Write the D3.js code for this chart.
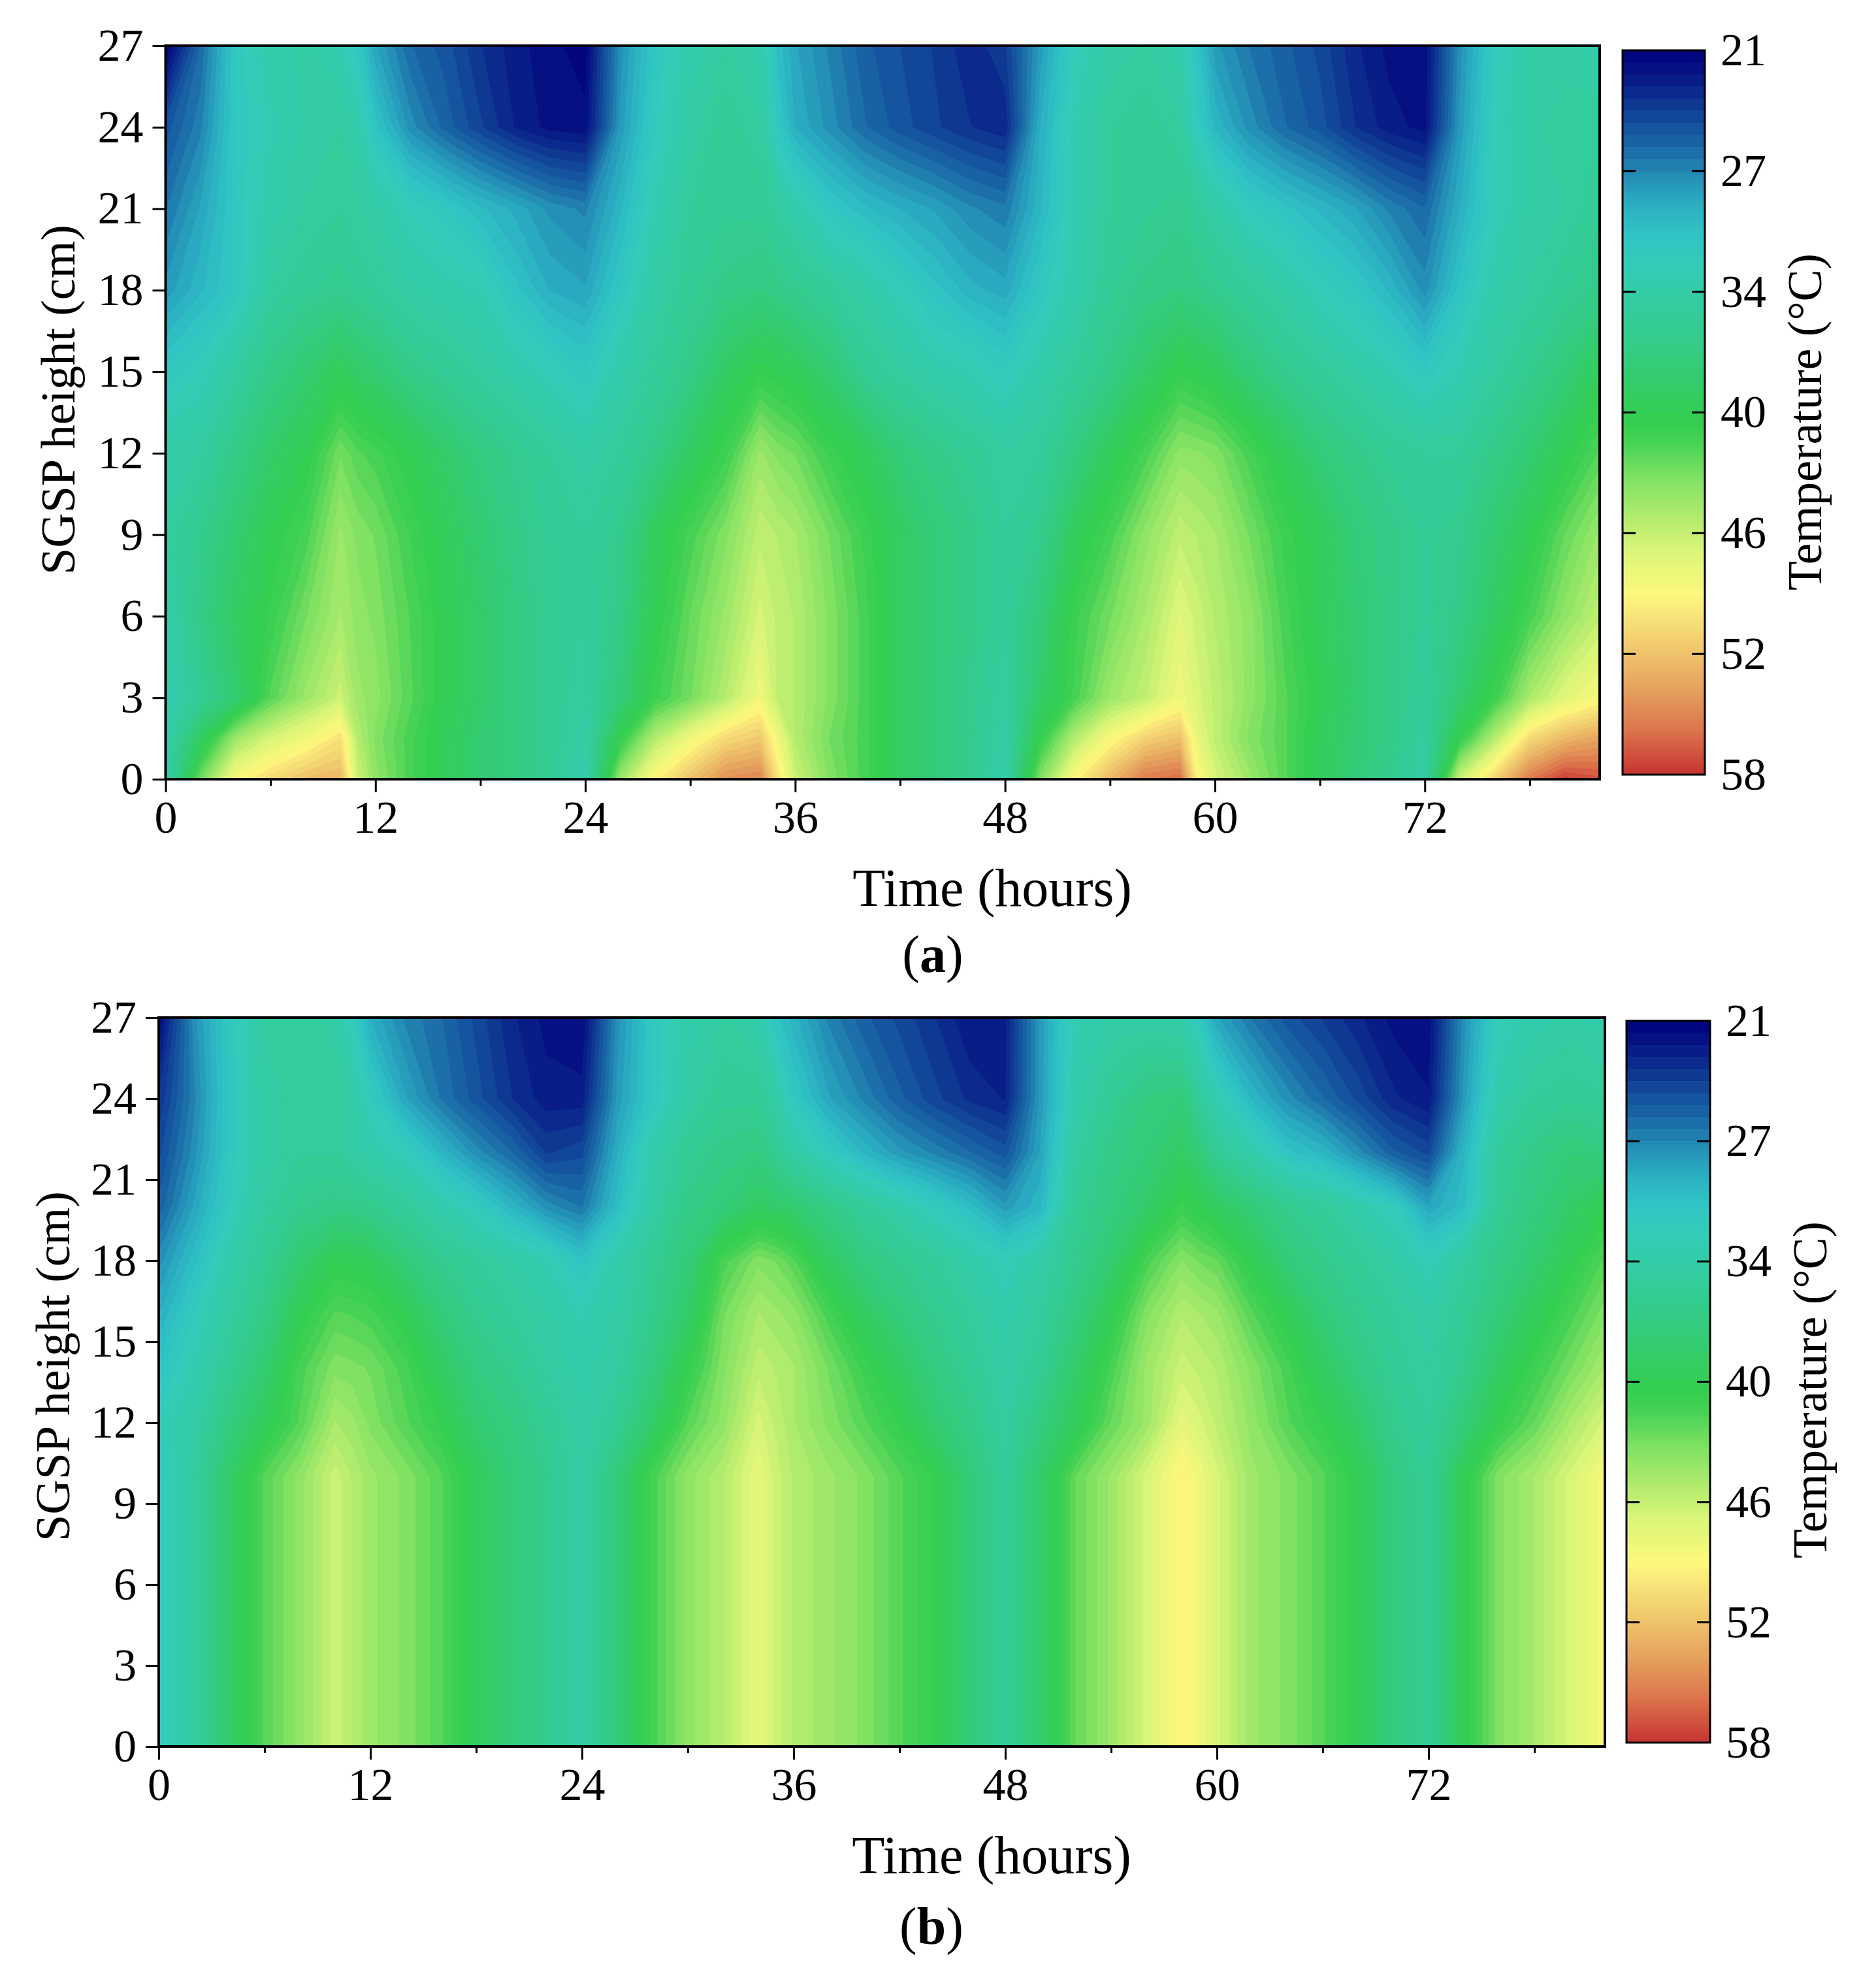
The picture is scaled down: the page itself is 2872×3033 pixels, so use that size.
<!DOCTYPE html>
<html>
<head>
<meta charset="utf-8">
<script src="https://d3js.org/d3.v7.min.js"></script>
<style>
  html, body { margin: 0; background: #fff; }
  text { font-family: "Liberation Serif", serif; fill: #000; }
</style>
</head>
<body>
<div id="chart"></div>
<script>
// sample times (hours), one column per value in the rows below
const times = [0,2,4,6,8,10,11,12,14,16,18,20,22,24,
  26,28,30,32,34,35,36,38,40,42,44,46,48,
  50,52,54,56,58,59,60,62,64,66,68,70,72,
  74,76,78,80,82];

// panel (a), temperature by height
const heightsA = [0,1.5,3,6,9,12,15,18,21,24,27];
const a0   = [33,42.5,48.5,50.5,52,52.5,46,43.5,41,39,37.5,36.5,35,33, 44,49,52,54.5,55,50,46,43,41,38.5,37,35.5,33, 43,49,52.5,55.5,56,49,46.5,44,41.5,39,37,35.5,33.5, 46,51,55.5,57.7,57];
const a1_5 = [33,38.5,44,46.5,48,50,45,43,41,39,37.5,36.5,35,33.5, 40,45,48,50.5,51.5,48,45,42.5,41,38.5,37,35.5,33.5, 40,45,48.5,51,52,47.5,45.5,43,41.5,39,37.5,36,34, 40,45,50.5,52.5,53.5];
const a3   = [32.5,35,37.5,41.5,44,46,44,43.5,41.5,39.5,38,36.5,35,34, 37,40.5,42.5,45,48,45.5,45,43,41,38.5,37,35.5,34, 38,41,44,45.5,48,46.5,45.5,43.5,41.5,39.5,37.5,36,34.5, 37.5,40.5,44.5,47,48.5];
const a6   = [33,36,38.5,40.3,42.5,44.5,43.5,43,41.3,39.5,38,36.5,35,34.5, 36,39.5,42,44,46.5,45.5,45,43,41,38.5,37,36,34.5, 37,40.5,42.5,44.5,47,46,45,43.5,41,39,37.5,36,35, 36,38.5,41,43.5,45.5];
const a9   = [34,35.5,37.5,39.5,41,44,43,42.5,40.7,39,37.5,36,35,34.5, 35.5,39,41,43,45.5,45,44.5,42.5,40.5,38.5,37,36,34.5, 35.5,39,41,43.5,45.5,45,44.5,42.5,40.5,39,37,36,35, 35.5,37.5,39.5,42,44];
const a12  = [33.5,34,36,38,39.5,42.5,41.5,41,39.5,38,36.5,35.5,34.5,33.5, 34.5,36,38.5,40.5,44,43,42.5,40.5,39,37,36,35,34, 34.5,36.5,39,41,43.5,43.3,43,41,39,37,36,35,34.5, 34.5,36,37.5,39.5,41.5];
const a15  = [31,32,34,36,37.5,39,38,37.5,36,35,34,33,32,31, 33,34.5,36,38.5,40,39.5,39,37.5,35,34,33,32.5,31.5, 33,34.5,36,38,40,39.5,39,37,35.5,34.5,33.5,32.5,31, 32.5,34,35.5,37,39];
const a18  = [28,29.5,31,34,35,35.5,35,34.5,33.5,33,32.5,30.5,29,28.5, 31,33.5,35,36,36.5,36,35.5,34.5,33.5,32,30.5,29.3,28.7, 31,33,35,36,36.5,36,35.5,34.5,33.5,32,31,29.5,27.5, 30.5,33,34,35,36];
const a21  = [26.5,28.5,31,33,34,34.5,34,33.5,32,31,29.8,28.8,27.6,27, 29.5,32.5,34.5,35,35,34,33,31,29.8,29,28.3,27.3,26.7, 29.5,32.5,34.5,35,35.5,34.5,33.5,31.5,30.5,29.5,28.5,27,26, 29,32,33.5,34,35];
const a24  = [25,27,31,32.5,33.5,34,33,30.5,27.5,25.7,24.2,22.8,22,21.8, 28,31.5,33.5,35,34,31,29,27.5,26,25,24.2,23.5,23, 29,32.5,34.5,35,34,31.5,29.5,27.5,26,25,23.5,22.5,22, 28,32,33.5,34.5,34.5];
const a27  = [21,26,31,33,33.5,32.5,31,28.5,26,25,23.5,22.5,21.8,21.3, 27.5,31,33,34,33,30,28.5,27,25.5,24.7,24,23,24, 28,32,33.5,34,33,30.5,28,26.5,25.5,24.5,23,22,21.8, 27.5,31.5,33.5,33.5,33];
const rowsA = [a0,a1_5,a3,a6,a9,a12,a15,a18,a21,a24,a27];

// panel (b), temperature by height
const heightsB = [0,10,12,14,16,18,20,22,24,27];
const b0  = [31.5,34,38,41.5,43.5,46,45,44,43,41.5,39,37,35.5,33.5, 37,41,43.5,45,47.5,46,45,44,43,41.5,40,37,34.5, 38,42,44,46.5,49,48,46.5,44,43,41.5,39.5,36.5,35, 39.5,43,44.5,46.5,48.5];
const b10 = [31.5,34,38,41.5,43.5,46,45,44,43,41.5,39,37,35.5,33.5, 37,41,43.5,45,47.5,46,45,44,43,41.5,40,37,34.5, 38,42,44,46.5,49,48,46.5,44,43,41.5,39.5,36.5,35, 39.5,43,44.5,46.5,48.5];
const b12 = [32,33.5,36.5,39,41.5,44.5,44,43,41.5,40,37.5,36.5,35,33.5, 35,38,41.5,43.5,46.5,45.5,44.5,43,41.5,40,37.5,36,34, 36.5,39,42,44,47.3,46.5,45.5,43.5,41.5,40,38,35.5,34.5, 37,40,42,44.5,46.5];
const b14 = [30.5,32.5,35,37.5,41,43,42.8,42.5,41,38.5,36.5,35.5,34,33, 34,36.5,40,43,45.5,45,44.5,42.5,40.5,38.5,36.5,35,33.5, 35,38,41,44,46,45.5,45,43,41,38.5,36.5,35,34, 35.5,38.5,40.5,42.5,44.5];
const b16 = [29,31.5,34,36,39.5,41.5,41.3,41,39.5,37,35.5,34.5,33.5,32.5, 33.5,35.5,38,42.5,44.5,44,43.5,41,38.5,36.8,35.5,34.3,33, 34.3,36.5,39.5,43,45,44.5,44,41.5,39.5,37,35.5,34.5,33.5, 35,37,39,41,43];
const b18 = [27.5,30,33,35,37.5,39.5,39.3,39,37,35.5,34.5,33.5,32.5,30.5, 33,35,37,41,43,42.5,41.5,38.5,36.5,35.5,34.5,33.2,32, 33.5,35.5,37.5,41,43.2,42.5,42,39.5,37,35.8,34.7,33.5,32, 34,36,37.5,39.5,41.5];
const b20 = [25.5,28.5,31.5,34,35.5,36,36,35.5,34.5,33,31.5,29.5,27.5,26.5, 30,33.5,36,37,38.5,38,37.5,36,34.5,33,31.5,30,28, 29.5,35,36.5,38,40.3,39.5,38.5,37,35.5,34.5,33,31.5,28.5, 30,35,36.5,38,39.5];
const b22 = [24.5,27.5,31,33.5,34.5,34.5,33.5,33,31.8,29.5,27.5,26,24,24.5, 29,33,35,36,36.5,35,33.5,31.5,29.5,28,27,26,25, 28.5,34,36,37,38.5,37,35,33,30.5,29.5,27.5,25.5,24.5, 29.5,34.5,36,37,36.5];
const b24 = [23.5,27,31,33.5,34.5,34.5,33.5,31.5,28.5,26.5,25,23.5,22.5,22.5, 28,31,33.5,35,35,33.5,31,28.5,27,25.5,24.3,23.3,22.8, 28,33,35,36.5,37,34.5,32.5,29.5,27.5,26,24.5,23,22.3, 28,33,34.5,35,34.5];
const b27 = [21.5,27.5,31,34,34.5,33.5,31.5,29,27,26,24.5,23,22,21.6, 27.5,31,33,34,33,30.5,29.3,27,25.5,24.5,23.5,22.3,22.7, 28,32.5,33.5,33.5,33,31,28.5,26.5,25,24,23,22,21.8, 27.5,32,33,33.5,33];
const rowsB = [b0,b10,b12,b14,b16,b18,b20,b22,b24,b27];

const xMajorTicks = [0,12,24,36,48,60,72];
const xMinorTicks = [6,18,30,42,54,66,78];
const yTicks = [0,3,6,9,12,15,18,21,24,27];
const barLabels = ["21","27","34","40","46","52","58"];

const tempMin = 21, tempMax = 58, bandCount = 60;
const colorStops = [21,22.5,24,25,26.5,27.5,29,30.5,32,34,36,38,40,41,43,45,46.5,48.8,50,52,54,55.5,57,58];
const colorValues = ["#00007c","#081c88","#103d95","#15549e","#1d75ab","#2490b7","#2bb0c2","#30c4c4","#33ccb7","#33cca0","#33cc88","#33cc6a","#34ce4f","#45d254","#84e264","#b5ec6d","#d9f577","#fdf97c","#f8e278","#eec06a","#e39a5a","#de7a4e","#d0503e","#c83232"];

const color = d3.scaleLinear().domain(colorStops).range(colorValues);
const bandStep = (tempMax - tempMin) / bandCount;
const levels = d3.range(bandCount).map(i => tempMin + i * bandStep);

// the colour bar shows ten wide bands at the cold end, then looks continuous
const barEdges = levels.slice(0, 10).concat(d3.range(levels[10], tempMax, 0.15));

const svg = d3.select("#chart").append("svg")
  .attr("width", 2872)
  .attr("height", 3033)
  .style("display", "block");

function drawPanel(id, heights, rows, p) {
  const x = d3.scaleLinear().domain([0, 82]).range([p.left, p.right]);
  const y = d3.scaleLinear().domain([0, 27]).range([p.bottom, p.top]);

  // contour coordinates -> data units (grid is not evenly spaced)
  const tOfCol = d3.scaleLinear().domain(times.map((_, i) => i + 0.5)).range(times).clamp(true);
  const hOfRow = d3.scaleLinear().domain(heights.map((_, i) => i + 0.5)).range(heights).clamp(true);
  const path = d3.geoPath(d3.geoTransform({
    point: function(c, r) { this.stream.point(x(tOfCol(c)), y(hOfRow(r))); }
  }));

  const contours = d3.contours()
    .size([times.length, heights.length])
    .smooth(true)
    .thresholds(levels.slice(1))(rows.flat());

  svg.append("defs").append("clipPath").attr("id", "clip" + id)
    .append("rect")
    .attr("x", p.left).attr("y", p.top)
    .attr("width", p.right - p.left).attr("height", p.bottom - p.top);

  const g = svg.append("g");
  const plot = g.append("g").attr("clip-path", `url(#clip${id})`);

  plot.append("rect")
    .attr("x", p.left).attr("y", p.top)
    .attr("width", p.right - p.left).attr("height", p.bottom - p.top)
    .attr("fill", color(tempMin + bandStep / 2));

  plot.selectAll("path")
    .data(contours)
    .enter()
    .append("path")
    .attr("d", path)
    .attr("fill", d => color(d.value + bandStep / 2));

  // axes
  const xAxis = g.append("g")
    .attr("transform", `translate(0, ${p.bottom})`)
    .call(d3.axisBottom(x).tickValues(xMajorTicks).tickSize(20).tickPadding(12).tickSizeOuter(0));
  g.append("g")
    .attr("transform", `translate(0, ${p.bottom})`)
    .call(d3.axisBottom(x).tickValues(xMinorTicks).tickSize(10).tickFormat("").tickSizeOuter(0));
  const yAxis = g.append("g")
    .attr("transform", `translate(${p.left}, 0)`)
    .call(d3.axisLeft(y).tickValues(yTicks).tickSize(20).tickPadding(14).tickSizeOuter(0));

  g.selectAll(".domain").remove();
  g.selectAll(".tick line").attr("stroke", "#000").attr("stroke-width", 3);
  xAxis.selectAll("text").style("font-family", "Liberation Serif").style("font-size", "70px");
  yAxis.selectAll("text").style("font-family", "Liberation Serif").style("font-size", "70px");

  g.append("rect")
    .attr("x", p.left).attr("y", p.top)
    .attr("width", p.right - p.left).attr("height", p.bottom - p.top)
    .attr("fill", "none").attr("stroke", "#000").attr("stroke-width", 4);

  // colour bar
  const barY = d3.scaleLinear().domain([tempMin, tempMax]).range([p.barTop, p.barBottom]);
  const barTicks = d3.scalePoint().domain(barLabels).range([p.barTop, p.barBottom]);
  const bar = g.append("g");

  bar.selectAll("rect")
    .data(barEdges)
    .enter()
    .append("rect")
    .attr("x", p.barLeft)
    .attr("y", d => barY(d))
    .attr("width", p.barRight - p.barLeft)
    .attr("height", (d, i) => barY(i + 1 < barEdges.length ? barEdges[i + 1] : tempMax) - barY(d) + 0.6)
    .attr("fill", (d, i) => color((d + (i + 1 < barEdges.length ? barEdges[i + 1] : tempMax)) / 2));

  bar.append("g")
    .attr("transform", `translate(${p.barRight}, 0)`)
    .call(d3.axisRight(barTicks).tickSize(0).tickPadding(24))
    .call(a => a.select(".domain").remove())
    .selectAll("text").style("font-family", "Liberation Serif").style("font-size", "70px");

  bar.selectAll(".inner")
    .data(barLabels.slice(1, -1))
    .enter()
    .append("path")
    .attr("class", "inner")
    .attr("d", d => `M${p.barLeft},${barTicks(d)}h20M${p.barRight},${barTicks(d)}h-20`)
    .attr("stroke", "#000").attr("stroke-width", 3);

  bar.append("rect")
    .attr("x", p.barLeft).attr("y", p.barTop)
    .attr("width", p.barRight - p.barLeft).attr("height", p.barBottom - p.barTop)
    .attr("fill", "none").attr("stroke", "#000").attr("stroke-width", 3);

  // titles
  g.append("text")
    .attr("x", p.timeX).attr("y", p.timeY)
    .attr("text-anchor", "middle").style("font-size", "82px")
    .text("Time (hours)");

  g.append("text")
    .attr("transform", `translate(${p.heightX}, ${p.heightY}) rotate(-90)`)
    .attr("text-anchor", "middle").style("font-size", "74px")
    .text("SGSP height (cm)");

  g.append("text")
    .attr("transform", `translate(${p.tempX}, ${p.tempY}) rotate(-90)`)
    .attr("text-anchor", "middle").style("font-size", "73.5px")
    .text("Temperature (°C)");

  const cap = g.append("text")
    .attr("x", p.capX).attr("y", p.capY)
    .attr("text-anchor", "middle").style("font-size", "80px");
  cap.append("tspan").text("(");
  cap.append("tspan").style("font-weight", "bold").text(id);
  cap.append("tspan").text(")");
}

drawPanel("a", heightsA, rowsA, {
  left: 253.5, right: 2449, top: 70, bottom: 1193,
  barLeft: 2484, barRight: 2610, barTop: 77, barBottom: 1186,
  timeX: 1519, timeY: 1387, heightX: 114, heightY: 612,
  tempX: 2788, tempY: 646, capX: 1428, capY: 1488
});

drawPanel("b", heightsB, rowsB, {
  left: 243, right: 2457, top: 1558, bottom: 2674,
  barLeft: 2490, barRight: 2618, barTop: 1563, barBottom: 2668,
  timeX: 1518, timeY: 2868, heightX: 106, heightY: 2092,
  tempX: 2796, tempY: 2128, capX: 1426, capY: 2976
});
</script>
</body>
</html>
